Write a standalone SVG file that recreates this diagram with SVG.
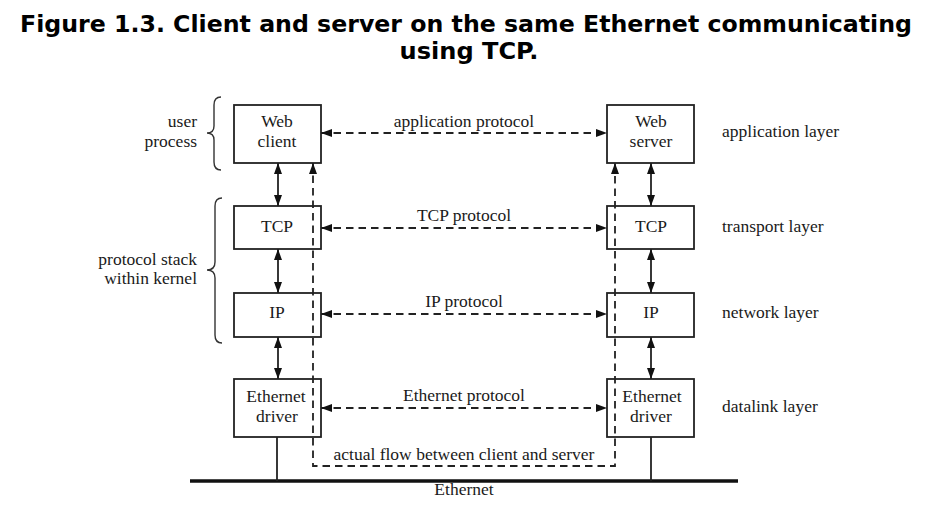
<svg xmlns="http://www.w3.org/2000/svg" width="931" height="507" viewBox="0 0 931 507">
<style>
.title{font-family:"DejaVu Sans",Verdana,sans-serif;font-weight:bold;font-size:23px;fill:#000}
.t{font-family:"Liberation Serif","Times New Roman",serif;font-size:17.5px;fill:#1a1a1a}
.box{fill:#fff;stroke:#222;stroke-width:1.8}
.solid{stroke:#222;stroke-width:1.8;fill:none}
.dash{stroke:#222;stroke-width:1.8;fill:none;stroke-dasharray:7.5 5}
.brace{stroke:#333;stroke-width:1.4;fill:none}
</style>
<defs>
<marker id="ah" viewBox="0 0 11 8" refX="11" refY="4" markerWidth="11" markerHeight="8" markerUnits="userSpaceOnUse" orient="auto-start-reverse">
<path d="M0,0 L11,4 L0,8 Z" fill="#111"/>
</marker>
</defs>
<rect width="931" height="507" fill="#fff"/>
<text class="title" x="466" y="32" text-anchor="middle" textLength="892" lengthAdjust="spacingAndGlyphs">Figure 1.3. Client and server on the same Ethernet communicating</text>
<text class="title" x="469" y="59" text-anchor="middle" textLength="139" lengthAdjust="spacingAndGlyphs">using TCP.</text>

<g id="labels-left">
<text class="t" x="197" y="127" text-anchor="end">user</text>
<text class="t" x="197" y="147" text-anchor="end">process</text>
<path class="brace" d="M221,97 Q214,97 214,105 L214,126 Q214,133 207,133 Q214,133 214,140 L214,162 Q214,170 221,170"/>
<text class="t" x="197" y="265" text-anchor="end">protocol stack</text>
<text class="t" x="197" y="284" text-anchor="end">within kernel</text>
<path class="brace" d="M222,198 Q215,198 215,206 L215,262 Q215,270 207,270 Q215,270 215,278 L215,335 Q215,343 222,343"/>
</g>

<g id="labels-right">
<text class="t" x="722" y="137">application layer</text>
<text class="t" x="722" y="232">transport layer</text>
<text class="t" x="722" y="318">network layer</text>
<text class="t" x="722" y="412">datalink layer</text>
</g>

<g id="web-client"><rect class="box" x="234" y="105" width="87" height="58"/>
<text class="t" x="277" y="127" text-anchor="middle">Web</text><text class="t" x="277" y="147" text-anchor="middle">client</text></g>
<g id="tcp-client"><rect class="box" x="234" y="206" width="87" height="43"/>
<text class="t" x="277" y="232" text-anchor="middle">TCP</text></g>
<g id="ip-client"><rect class="box" x="234" y="293" width="87" height="44"/>
<text class="t" x="277" y="318" text-anchor="middle">IP</text></g>
<g id="eth-client"><rect class="box" x="234" y="379" width="87" height="58"/>
<text class="t" x="276" y="402" text-anchor="middle">Ethernet</text><text class="t" x="277" y="422" text-anchor="middle">driver</text></g>

<g id="web-server"><rect class="box" x="607" y="105" width="87" height="58"/>
<text class="t" x="651" y="127" text-anchor="middle">Web</text><text class="t" x="651" y="147" text-anchor="middle">server</text></g>
<g id="tcp-server"><rect class="box" x="607" y="206" width="87" height="43"/>
<text class="t" x="651" y="232" text-anchor="middle">TCP</text></g>
<g id="ip-server"><rect class="box" x="607" y="293" width="87" height="44"/>
<text class="t" x="651" y="318" text-anchor="middle">IP</text></g>
<g id="eth-server"><rect class="box" x="607" y="379" width="87" height="58"/>
<text class="t" x="652" y="402" text-anchor="middle">Ethernet</text><text class="t" x="651" y="422" text-anchor="middle">driver</text></g>

<g id="ethernet">
<line x1="190" y1="481" x2="738" y2="481" stroke="#111" stroke-width="3.4"/>
<text class="t" x="464" y="495" text-anchor="middle">Ethernet</text>
</g>

<g id="connectors">
<line class="solid" x1="278" y1="163" x2="278" y2="206" marker-start="url(#ah)" marker-end="url(#ah)"/>
<line class="solid" x1="278" y1="249" x2="278" y2="293" marker-start="url(#ah)" marker-end="url(#ah)"/>
<line class="solid" x1="278" y1="337" x2="278" y2="379" marker-start="url(#ah)" marker-end="url(#ah)"/>
<line class="solid" x1="651" y1="163" x2="651" y2="206" marker-start="url(#ah)" marker-end="url(#ah)"/>
<line class="solid" x1="651" y1="249" x2="651" y2="293" marker-start="url(#ah)" marker-end="url(#ah)"/>
<line class="solid" x1="651" y1="337" x2="651" y2="379" marker-start="url(#ah)" marker-end="url(#ah)"/>
<line class="solid" x1="277" y1="437" x2="277" y2="481" stroke-width="1.4"/>
<line class="solid" x1="651" y1="437" x2="651" y2="481"/>

<line class="dash" x1="321" y1="133" x2="607" y2="133" marker-start="url(#ah)" marker-end="url(#ah)"/>
<line class="dash" x1="321" y1="228" x2="607" y2="228" marker-start="url(#ah)" marker-end="url(#ah)"/>
<line class="dash" x1="321" y1="314" x2="607" y2="314" marker-start="url(#ah)" marker-end="url(#ah)"/>
<line class="dash" x1="321" y1="408" x2="607" y2="408" marker-start="url(#ah)" marker-end="url(#ah)"/>
<path class="dash" d="M313,163 L313,466 L615,466 L615,163" marker-start="url(#ah)" marker-end="url(#ah)"/>

<text class="t" x="464" y="127" text-anchor="middle">application protocol</text>
<text class="t" x="464" y="221" text-anchor="middle">TCP protocol</text>
<text class="t" x="464" y="307" text-anchor="middle">IP protocol</text>
<text class="t" x="464" y="401" text-anchor="middle">Ethernet protocol</text>
<text class="t" x="464" y="460" text-anchor="middle">actual flow between client and server</text>
</g>
</svg>
